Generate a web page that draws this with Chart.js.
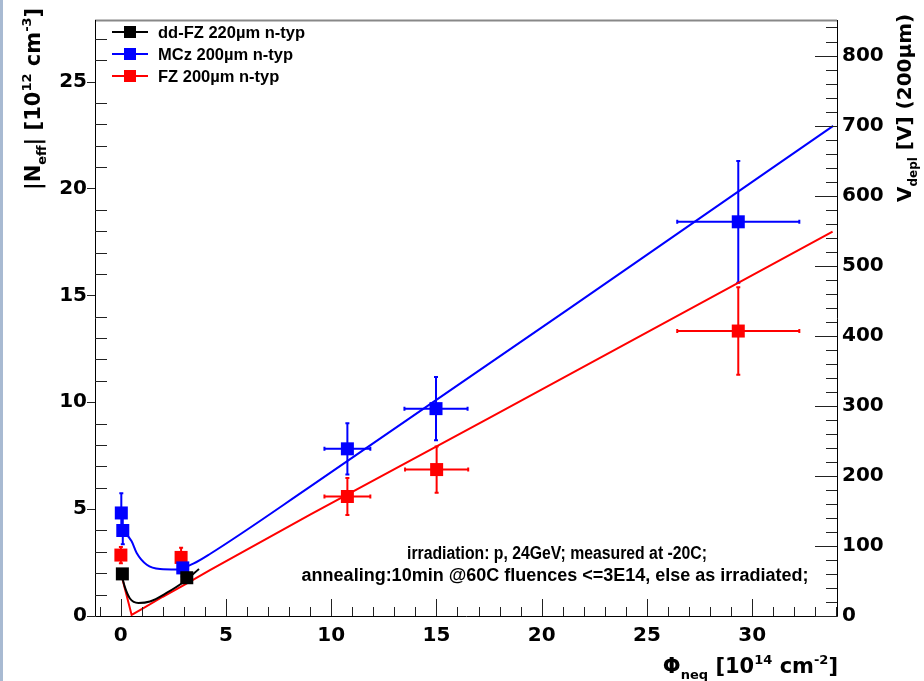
<!DOCTYPE html>
<html>
<head>
<meta charset="utf-8">
<script src="https://cdn.jsdelivr.net/npm/chart.js@4.4.0/dist/chart.umd.min.js"></script>
<style>
  html, body { margin: 0; padding: 0; background: #fff; }
  #wrap { width: 924px; height: 681px; }
</style>
</head>
<body>
<div id="wrap"><canvas id="chartNeff" width="924" height="681"></canvas></div>
<script>
// measured points: fluence [1e14 cm^-2], |Neff| [1e12 cm^-3]
const ddfzFluence = [0.08, 3.14];
const ddfzNeff = [1.97, 1.79];
const ddfzErrX = [0, 0];
const ddfzErrY = [0.15, 0.15];

const mczFluence = [0.03, 0.1, 2.95, 10.77, 14.98, 29.34];
const mczNeff = [4.82, 4.0, 2.25, 7.82, 9.7, 18.44];
const mczErrX = [0, 0, 0, 1.09, 1.5, 2.9];
const mczErrY = [0.92, 0.64, 0.4, 1.2, 1.48, 2.85];

const fzFluence = [0.01, 2.87, 10.77, 15.01, 29.34];
const fzNeff = [2.85, 2.74, 5.59, 6.85, 13.33];
const fzErrX = [0, 0, 1.09, 1.5, 2.9];
const fzErrY = [0.38, 0.45, 0.87, 1.08, 2.05];

// fitted curves
const ddfzFitX = [0.05, 0.2, 0.44, 0.84, 1.39, 2.18, 2.97, 3.72];
const ddfzFitY = [1.9, 1.35, 0.82, 0.61, 0.68, 1.08, 1.58, 2.2];
const mczFitX = [0.1, 0.52, 0.76, 1.24, 1.87, 2.66, 3.45, 4.24, 9.0, 24.67, 33.85];
const mczFitY = [4.0, 3.5, 2.95, 2.4, 2.2, 2.18, 2.45, 2.9, 6.05, 16.67, 22.93];
const fzFitX = [0.0, 0.52, 1.0, 2.0, 3.0, 4.24, 9.0, 17.54, 33.82];
const fzFitY = [2.05, 0.05, 0.32, 0.9, 1.45, 2.15, 4.74, 9.28, 17.98];

// axis tick labels
const fluenceTicks = [0, 5, 10, 15, 20, 25, 30];
const neffTicks = [0, 5, 10, 15, 20, 25];
const vdeplTicks = [0, 100, 200, 300, 400, 500, 600, 700, 800];

const seriesLabels = ['dd-FZ 220\u00b5m n-typ', 'MCz 200\u00b5m n-typ', 'FZ 200\u00b5m n-typ'];
const seriesColors = ['#000000', '#0000ff', '#ff0000'];

const notes = [
  'irradiation: p, 24GeV; measured at -20C;',
  'annealing:10min @60C fluences <=3E14, else as irradiated;'
];

const toXY = (xs, ys) => xs.map((x, i) => ({ x: x, y: ys[i] }));

function pointSet(i, xs, ys, ex, ey) {
  return {
    type: 'scatter',
    label: seriesLabels[i],
    data: toXY(xs, ys),
    backgroundColor: seriesColors[i],
    borderColor: seriesColors[i],
    borderWidth: 0,
    pointStyle: 'rect',
    pointRadius: 9.2,
    order: 1,
    errX: ex,
    errY: ey
  };
}

function fitSet(i, xs, ys, smooth) {
  return {
    type: 'line',
    data: toXY(xs, ys),
    borderColor: seriesColors[i],
    borderWidth: 2,
    pointRadius: 0,
    fill: false,
    cubicInterpolationMode: smooth ? 'monotone' : 'default',
    tension: 0,
    order: 2
  };
}

const TICK_FONT = { family: 'DejaVu Sans', size: 20, weight: 'bold' };

// draws text with sub/superscript pieces, baseline at (x, y)
function drawRich(ctx, parts, x, y, size, align) {
  const fam = 'DejaVu Sans';
  const fontFor = m => 'bold ' + (m === 'n' ? size : Math.round(size * 0.62)) + 'px "' + fam + '"';
  let w = 0;
  parts.forEach(([t, m]) => { ctx.font = fontFor(m); w += ctx.measureText(t).width; });
  let cx = align === 'right' ? x - w : x;
  ctx.textAlign = 'left';
  ctx.textBaseline = 'alphabetic';
  parts.forEach(([t, m]) => {
    ctx.font = fontFor(m);
    const dy = m === 'sub' ? size * 0.3 : (m === 'sup' ? -size * 0.45 : 0);
    ctx.fillText(t, cx, y + dy);
    cx += ctx.measureText(t).width;
  });
}

const plotDecor = {
  id: 'plotDecor',
  beforeDraw(chart) {
    const ctx = chart.ctx;
    ctx.save();
    ctx.fillStyle = '#ffffff';
    ctx.fillRect(0, 0, chart.width, chart.height);
    ctx.fillStyle = '#a8bad2';
    ctx.fillRect(0, 0, 3, chart.height);
    ctx.restore();
  },
  beforeDatasetsDraw(chart) {
    // error bars for the measured points
    const ctx = chart.ctx, xs = chart.scales.x, ys = chart.scales.y;
    ctx.save();
    ctx.lineWidth = 2;
    chart.data.datasets.forEach(ds => {
      if (!ds.errY) return;
      ctx.strokeStyle = ds.borderColor;
      ds.data.forEach((p, i) => {
        const px = xs.getPixelForValue(p.x), py = ys.getPixelForValue(p.y);
        const ey = ds.errY[i], ex = ds.errX[i];
        if (ey > 0) {
          const y1 = ys.getPixelForValue(p.y - ey), y2 = ys.getPixelForValue(p.y + ey);
          ctx.beginPath();
          ctx.moveTo(px, y1); ctx.lineTo(px, y2);
          ctx.moveTo(px - 2, y1); ctx.lineTo(px + 2, y1);
          ctx.moveTo(px - 2, y2); ctx.lineTo(px + 2, y2);
          ctx.stroke();
        }
        if (ex > 0) {
          const x1 = xs.getPixelForValue(p.x - ex), x2 = xs.getPixelForValue(p.x + ex);
          ctx.beginPath();
          ctx.moveTo(x1, py); ctx.lineTo(x2, py);
          ctx.moveTo(x1, py - 2); ctx.lineTo(x1, py + 2);
          ctx.moveTo(x2, py - 2); ctx.lineTo(x2, py + 2);
          ctx.stroke();
        }
      });
    });
    ctx.restore();
  },
  afterDraw(chart) {
    const ctx = chart.ctx, a = chart.chartArea;
    const xs = chart.scales.x, ys = chart.scales.y, ys2 = chart.scales.y2;
    ctx.save();

    // frame
    ctx.strokeStyle = '#888888';
    ctx.lineWidth = 2;
    ctx.beginPath(); ctx.moveTo(a.left, a.top + 0.5); ctx.lineTo(a.right, a.top + 0.5); ctx.stroke();
    ctx.strokeStyle = '#000000';
    ctx.lineWidth = 1;
    ctx.beginPath();
    ctx.moveTo(a.left + 0.5, a.top); ctx.lineTo(a.left + 0.5, a.bottom + 0.5);
    ctx.lineTo(a.right + 0.5, a.bottom + 0.5); ctx.lineTo(a.right + 0.5, a.top);
    ctx.stroke();

    // tick marks
    ctx.strokeStyle = '#222222';
    ctx.beginPath();
    for (let v = -1; v <= 34; v++) {
      const px = Math.round(xs.getPixelForValue(v)) + 0.5;
      const len = v % 5 === 0 ? 17 : 9;
      ctx.moveTo(px, a.bottom); ctx.lineTo(px, a.bottom - len);
    }
    for (let v = 0; v <= 27; v++) {
      const py = Math.round(ys.getPixelForValue(v)) + 0.5;
      if (v % 5 === 0) { ctx.moveTo(a.left - 8, py); ctx.lineTo(a.left, py); }
      else { ctx.moveTo(a.left, py); ctx.lineTo(a.left + 12, py); }
    }
    for (let v = 0; v <= 840; v += 20) {
      const py = Math.round(ys2.getPixelForValue(v)) + 0.5;
      const len = v % 100 === 0 ? 22 : 11;
      ctx.moveTo(a.right, py); ctx.lineTo(a.right - len, py);
    }
    ctx.stroke();

    // axis titles
    ctx.fillStyle = '#000000';
    drawRich(ctx, [['\u03a6', 'n'], ['neq', 'sub'], [' [10', 'n'], ['14', 'sup'], [' cm', 'n'], ['-2', 'sup'], [']', 'n']],
      838, 673, 21, 'right');
    ctx.save();
    ctx.translate(40, 190);
    ctx.rotate(-Math.PI / 2);
    drawRich(ctx, [['|N', 'n'], ['eff', 'sub'], ['| [10', 'n'], ['12', 'sup'], [' cm', 'n'], ['-3', 'sup'], [']', 'n']],
      0, 0, 21, 'left');
    ctx.restore();
    ctx.save();
    ctx.translate(911, 202);
    ctx.rotate(-Math.PI / 2);
    drawRich(ctx, [['V', 'n'], ['depl', 'sub'], [' [V] (200\u00b5m)', 'n']], 0, 0, 20, 'left');
    ctx.restore();

    // legend
    const pts = chart.data.datasets.filter(d => d.type === 'scatter');
    ctx.font = 'bold 16.5px "Liberation Sans", Arial, sans-serif';
    ctx.textBaseline = 'middle';
    ctx.textAlign = 'left';
    pts.forEach((d, i) => {
      const yy = 32 + i * 22;
      ctx.strokeStyle = d.borderColor;
      ctx.lineWidth = 2;
      ctx.beginPath(); ctx.moveTo(112, yy); ctx.lineTo(148, yy); ctx.stroke();
      ctx.fillStyle = d.backgroundColor;
      ctx.fillRect(124, yy - 6, 12, 12);
      ctx.fillStyle = '#000000';
      ctx.fillText(d.label, 158, yy + 1);
    });

    // run conditions
    ctx.font = 'bold 18px "Liberation Sans", Arial, sans-serif';
    ctx.textAlign = 'center';
    ctx.textBaseline = 'alphabetic';
    ctx.fillText(notes[0], 557, 559, 300);
    ctx.fillText(notes[1], 555, 581, 508);
    ctx.restore();
  }
};

const ctxNeff = document.querySelector('#chartNeff').getContext('2d');
const chartNeff = new Chart(ctxNeff, {
  type: 'scatter',
  data: {
    datasets: [
      pointSet(0, ddfzFluence, ddfzNeff, ddfzErrX, ddfzErrY),
      pointSet(1, mczFluence, mczNeff, mczErrX, mczErrY),
      pointSet(2, fzFluence, fzNeff, fzErrX, fzErrY),
      fitSet(0, ddfzFitX, ddfzFitY, true),
      fitSet(1, mczFitX, mczFitY, true),
      fitSet(2, fzFitX, fzFitY, false)
    ]
  },
  options: {
    responsive: false,
    animation: false,
    devicePixelRatio: 1,
    layout: { padding: { top: 12, left: 0, right: 0, bottom: 0 } },
    plugins: {
      legend: { display: false },
      tooltip: { enabled: false }
    },
    scales: {
      x: {
        type: 'linear',
        min: -1.22,
        max: 34.03,
        grid: { display: false, drawTicks: false },
        border: { display: false },
        ticks: { font: TICK_FONT, color: '#000', padding: 8, maxRotation: 0 },
        afterBuildTicks: s => { s.ticks = fluenceTicks.map(v => ({ value: v })); },
        afterFit: s => { s.height = 65; }
      },
      y: {
        type: 'linear',
        position: 'left',
        min: 0,
        max: 27.88,
        grid: { display: false, drawTicks: false },
        border: { display: false },
        ticks: { font: TICK_FONT, color: '#000', padding: 8 },
        afterBuildTicks: s => { s.ticks = neffTicks.map(v => ({ value: v })); },
        afterFit: s => { s.width = 95; }
      },
      y2: {
        type: 'linear',
        position: 'right',
        min: 0,
        max: 850.7,
        grid: { display: false, drawTicks: false },
        border: { display: false },
        ticks: { font: TICK_FONT, color: '#000', padding: 5 },
        afterBuildTicks: s => { s.ticks = vdeplTicks.map(v => ({ value: v })); },
        afterFit: s => { s.width = 87; }
      }
    }
  },
  plugins: [plotDecor]
});
</script>
</body>
</html>
